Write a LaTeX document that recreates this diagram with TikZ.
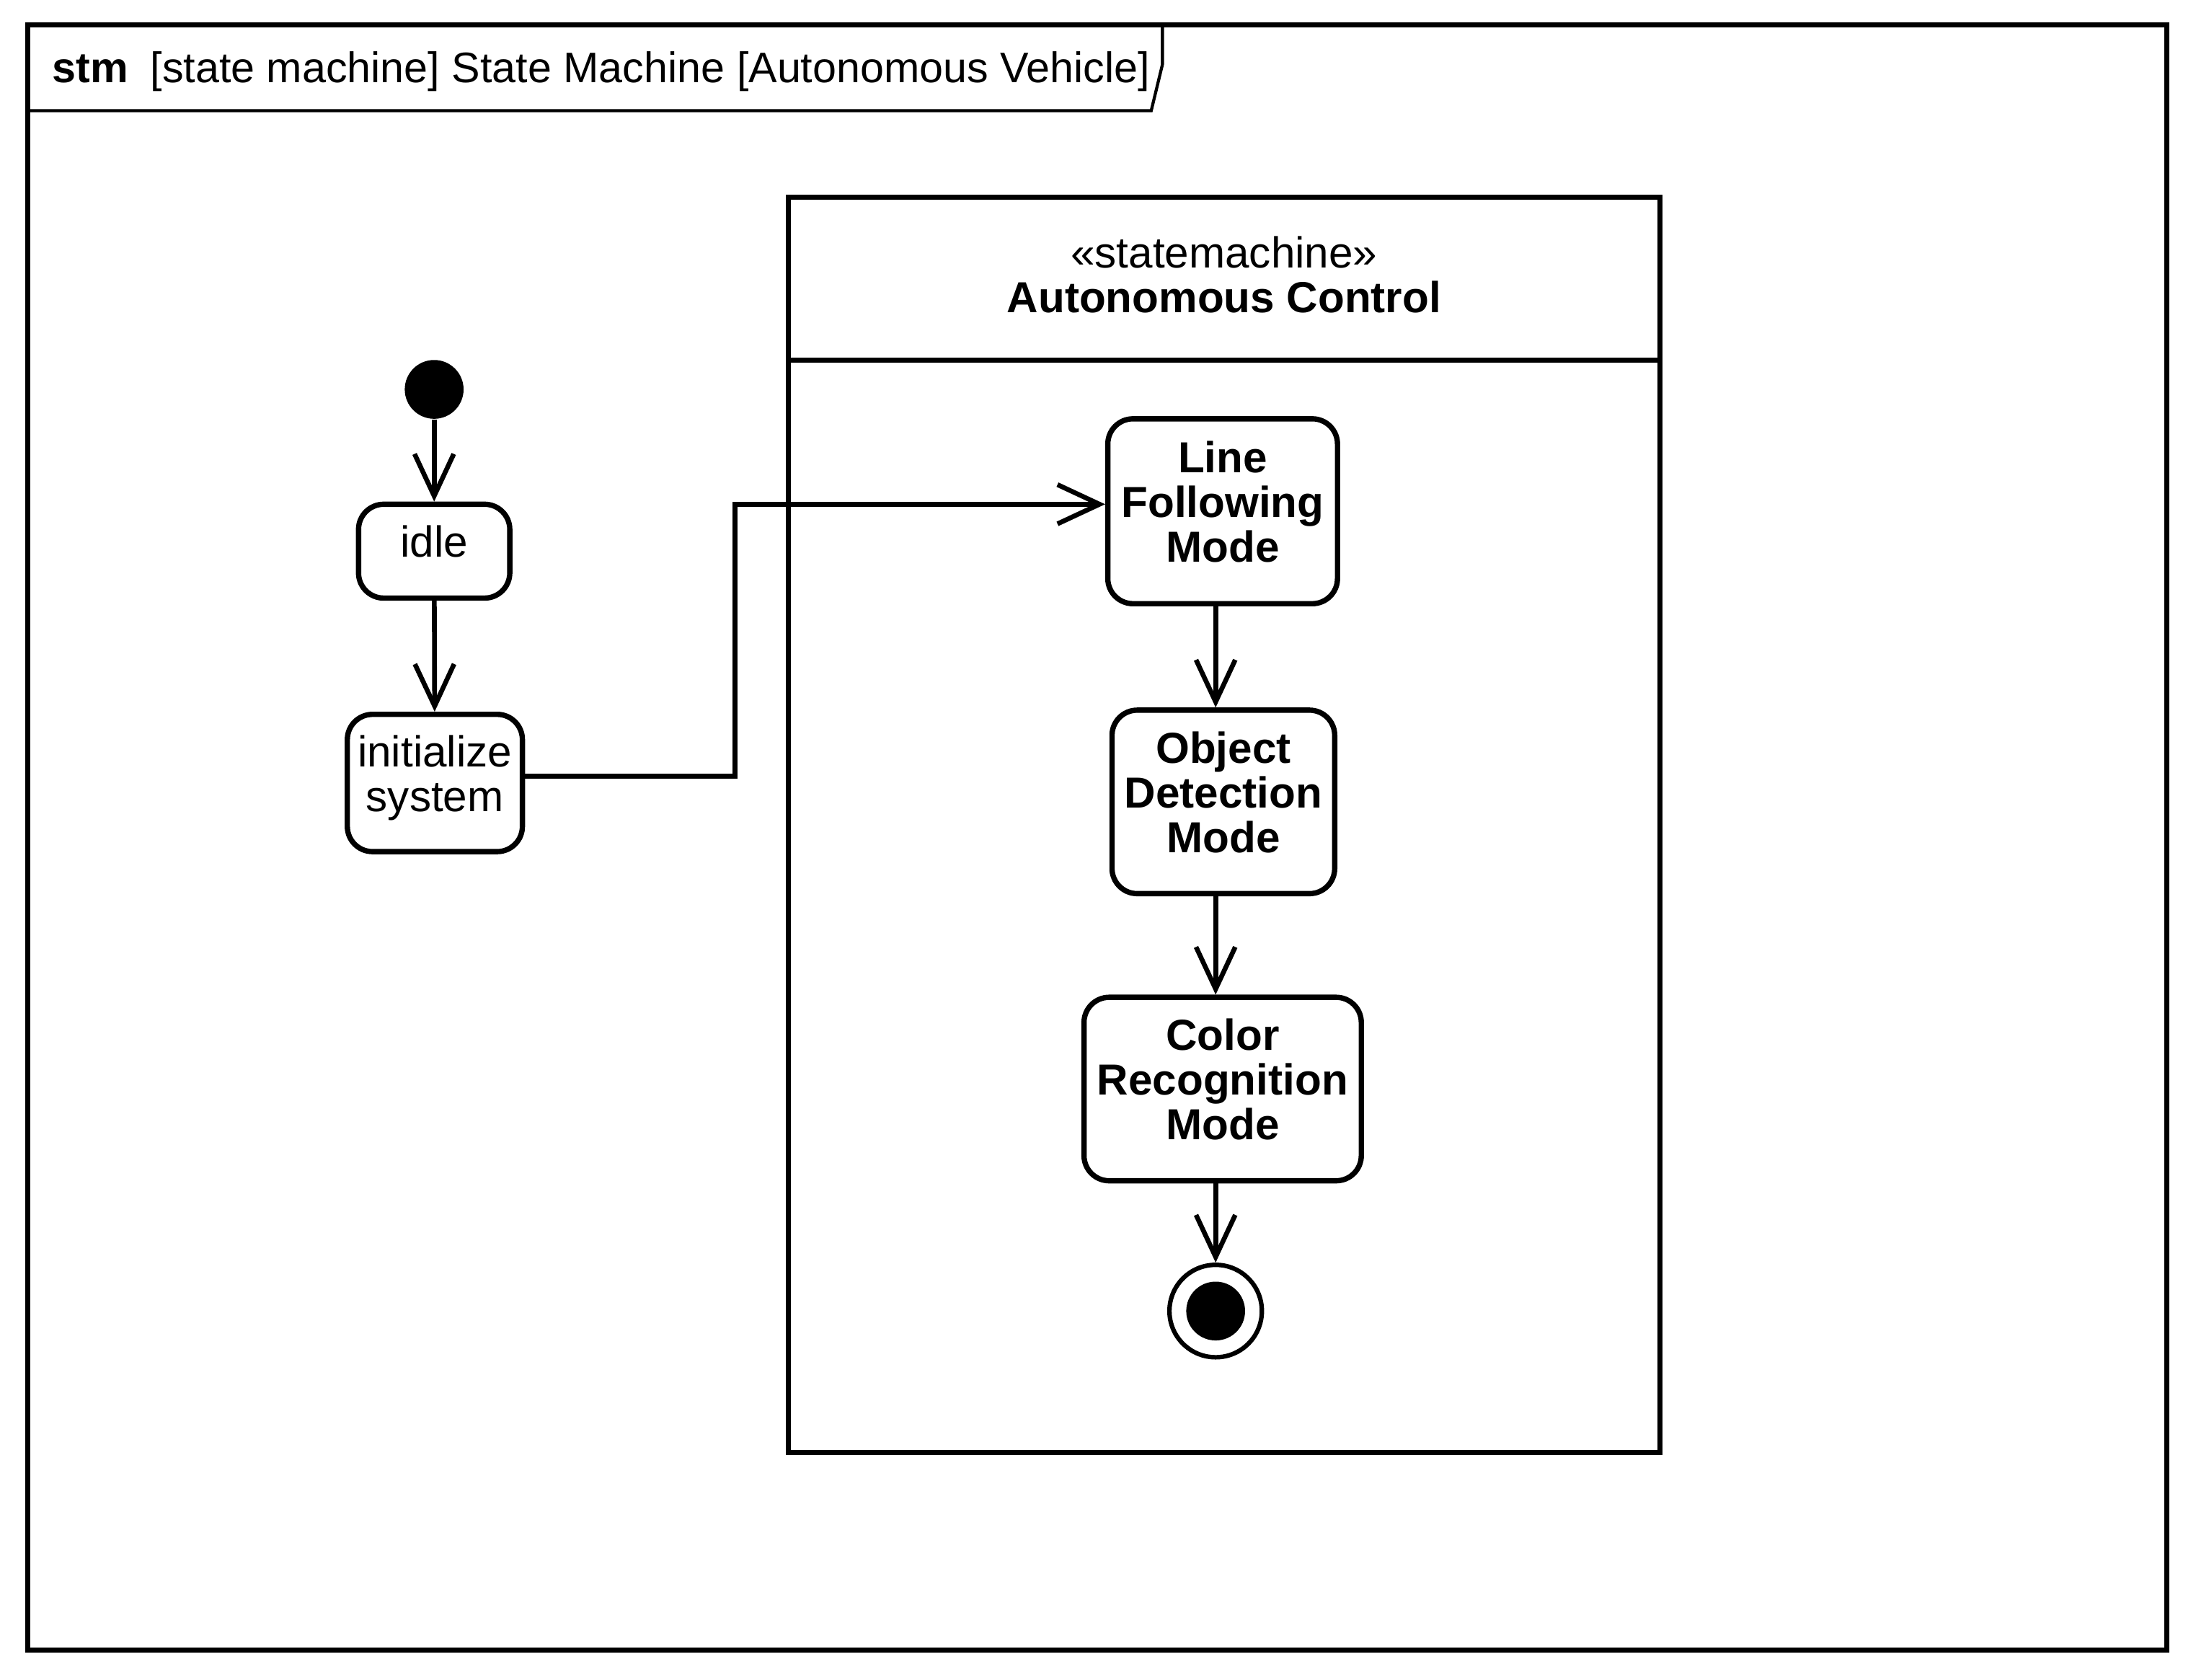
\documentclass[tikz,border=0pt]{standalone}
\usepackage{fontspec}
\setmainfont{Liberation Sans}
\usetikzlibrary{arrows.meta}
\begin{document}
\begin{tikzpicture}[x=0.5pt, y=-0.5pt,
		state/.style = {draw, rounded corners=9pt, line width=1.9pt, align=center, inner sep=0pt, text depth=7pt, font=\fontsize{15.5}{16}\selectfont},
		mode/.style = {state, font=\bfseries\fontsize{15.5}{16}\selectfont},
		trans/.style = {line width=1.7pt, -{Straight Barb[length=15pt,width=14pt,line width=1.7pt]}},
		frame/.style = {line width=1.8pt}]
		\useasboundingbox (0,0) rectangle (1568,1199.4);
		% diagram frame
		\draw[frame] (20,18) rectangle (1547,1178);
		\draw[line width=1.1pt] (20,79) -- (822,79) -- (830,46) -- (830,18);
		\node[anchor=base west, inner sep=0pt, font=\bfseries\fontsize{15.25}{18}\selectfont] (kind) at (37,59) {stm};
		\node[anchor=base west, inner sep=0pt, font=\fontsize{15.25}{18}\selectfont] (title) at (107,59) {[state machine] State Machine [Autonomous Vehicle]};
		% composite state
		\node[draw, line width=1.8pt, minimum width=311pt, minimum height=448pt, inner sep=0pt] (ac) at (874,589) {};
		\draw[frame] (563,257) -- (1185,257);
		\node[align=center, font=\fontsize{15.5}{16}\selectfont] (actitle) at (874,196) {«statemachine»\\\textbf{Autonomous Control}};
		% states
		\node[circle, fill, minimum size=21pt, inner sep=0pt] (start) at (310,278) {};
		\node[state, minimum width=54pt, minimum height=33.5pt] (idle) at (310,393.5) {idle};
		\node[state, minimum width=62.5pt, minimum height=49pt] (init) at (310.5,559) {initialize\\system};
		\node[mode, minimum width=82pt, minimum height=66pt] (lf) at (873,365) {Line\\Following\\Mode};
		\node[mode, minimum width=79.5pt, minimum height=65.5pt] (od) at (873.5,572.5) {Object\\Detection\\Mode};
		\node[mode, minimum width=99pt, minimum height=65.5pt] (cr) at (873,777.5) {Color\\Recognition\\Mode};
		\node[circle, draw, line width=1.6pt, minimum size=33pt, inner sep=0pt] (fin) at (868,936) {};
		\node[circle, fill, minimum size=21pt, inner sep=0pt] (fincore) at (fin) {};
		% transitions
		\draw[trans] (start) -- (idle);
		\draw[trans] (idle) -- (init);
		\draw[trans] ([yshift=2.5pt]init.east) -- ++(150,0) |- ([yshift=2.5pt]lf.west);
		\draw[trans] (lf.south -| fin) -- (od.north -| fin);
		\draw[trans] (od.south -| fin) -- (cr.north -| fin);
		\draw[trans] (cr.south -| fin) -- (fin);
	\end{tikzpicture}
\end{document}
